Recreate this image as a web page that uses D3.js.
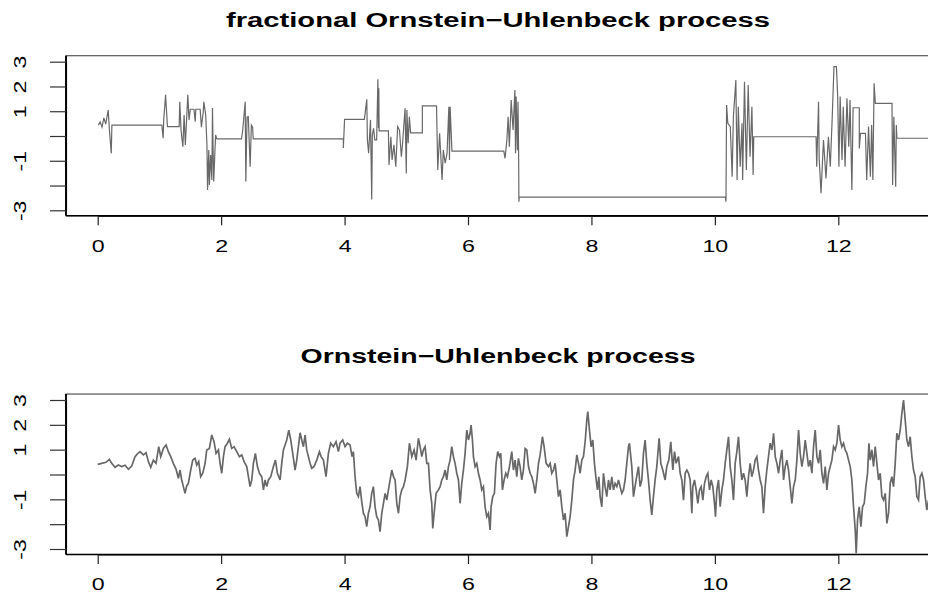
<!DOCTYPE html>
<html>
<head>
<meta charset="utf-8">
<script src="https://cdn.jsdelivr.net/npm/d3@7/dist/d3.min.js"></script>
<style>
  html, body { margin: 0; padding: 0; background: #fff; overflow: hidden; }
  svg { display: block; font-family: "Liberation Sans", Arial, Helvetica, sans-serif; }
</style>
</head>
<body>
<svg id="chart" width="928" height="596"></svg>
<script>
// ---------------- data ----------------
const titles = ["fractional Ornstein\u2212Uhlenbeck process", "Ornstein\u2212Uhlenbeck process"];
const xTicks = [0, 2, 4, 6, 8, 10, 12];
const yTicks = [-3, -2, -1, 0, 1, 2, 3];
const yLabelValues = [3, 2, 1, -1, -3];

// fractional OU path: [time, value]
const fracOU = [
[0.01,0.44],[0.04,0.57],[0.07,0.36],[0.10,0.73],[0.13,0.48],[0.17,1.05],[0.19,0.24],[0.22,-0.70],[0.23,0.44],
[1.04,0.44],[1.06,-0.09],[1.07,0.65],[1.10,1.66],[1.13,0.38],
[1.32,0.38],[1.33,1.38],[1.35,0.24],[1.38,-0.43],[1.40,0.85],[1.42,-0.36],[1.46,1.66],[1.48,0.65],[1.50,1.08],
[1.56,1.08],[1.58,0.58],[1.59,1.08],[1.66,1.08],[1.68,0.36],[1.71,0.97],[1.72,1.38],[1.75,0.85],[1.77,-0.36],[1.78,-2.18],[1.80,-0.57],[1.81,-1.98],[1.83,-0.77],[1.85,-1.78],[1.86,1.13],[1.87,-0.57],[1.88,-1.84],[1.91,0.04],[1.93,-0.12],
[2.33,-0.12],[2.35,0.24],[2.39,1.38],[2.40,-1.84],[2.42,0.77],[2.44,0.78],[2.47,-1.24],[2.49,0.44],[2.51,0.36],[2.52,-0.12],
[3.98,-0.12],[3.98,-0.48],[4.00,0.67],
[4.32,0.67],[4.33,0.85],[4.36,1.48],[4.37,-0.16],[4.39,-0.69],[4.42,0.65],[4.44,-2.56],[4.45,0.04],[4.47,0.31],[4.49,-0.16],[4.52,-0.16],[4.54,2.29],[4.55,0.32],[4.555,1.93],[4.56,0.21],
[4.71,0.21],[4.72,-1.17],[4.75,-0.03],[4.77,-0.97],[4.80,-0.36],[4.83,-1.24],[4.86,0.38],[4.89,0.24],[4.92,-0.84],[4.94,-0.29],[4.98,1.12],[5.00,-1.51],[5.01,1.05],[5.03,-0.29],[5.05,0.78],[5.07,0.13],
[5.26,0.13],[5.26,1.22],[5.49,1.22],[5.51,-1.37],[5.54,0.11],[5.58,-1.78],[5.60,-0.57],[5.63,-1.10],[5.66,-0.70],[5.69,1.18],[5.70,-0.97],[5.71,1.18],[5.74,-0.61],
[6.58,-0.61],[6.60,-0.90],[6.63,-0.16],[6.65,0.78],[6.67,-0.43],[6.70,1.45],[6.73,0.24],[6.75,1.33],[6.76,1.86],[6.77,-0.70],[6.78,1.59],[6.80,-0.57],[6.81,1.38],[6.82,-0.70],[6.825,-2.65],[6.83,-2.47],
[10.17,-2.47],[10.18,-2.65],[10.19,1.25],[10.21,0.51],[10.25,0.38],[10.28,-1.64],[10.30,0.78],[10.34,2.26],[10.36,-1.78],[10.38,1.18],[10.41,-1.24],[10.44,0.51],[10.45,-1.78],[10.48,2.19],[10.51,-1.37],[10.54,2.06],[10.57,-0.84],[10.60,1.18],[10.62,-1.57],[10.63,-0.03],
[11.64,-0.03],[11.65,-1.24],[11.68,1.38],[11.69,-0.90],[11.72,-2.31],[11.76,-0.16],[11.80,-1.71],[11.84,-0.03],[11.87,-1.24],[11.90,0.65],[11.93,2.80],[11.97,2.80],[11.99,1.59],[12.01,-1.24],[12.03,1.59],[12.06,-0.97],[12.08,1.18],[12.11,-1.24],[12.14,1.52],[12.17,-0.43],[12.19,1.45],[12.22,-2.18],[12.24,1.14],
[12.34,1.14],[12.34,-0.50],[12.36,0.11],[12.44,0.11],[12.46,-1.78],[12.49,0.38],[12.52,-1.64],[12.54,0.44],[12.56,-1.78],[12.58,2.13],[12.60,1.32],
[12.87,1.32],[12.88,-1.98],[12.90,0.78],[12.93,-2.05],[12.94,0.44],[12.95,-0.09],[13.65,-0.09]
];

// standard OU path: [time, value]
const stdOU = [
[0.000,0.41],[0.065,0.45],[0.135,0.49],[0.189,0.61],[0.227,0.45],[0.281,0.29],[0.335,0.38],[0.389,0.32],[0.443,0.37],[0.497,0.21],[0.551,0.34],[0.605,0.72],[0.643,0.83],[0.686,0.92],[0.740,0.79],[0.783,0.88],[0.821,0.52],[0.859,0.29],[0.902,0.58],[0.945,0.45],[0.989,1.12],[1.021,0.72],[1.064,1.05],[1.108,1.19],[1.145,0.92],[1.183,0.72],[1.226,0.45],[1.270,0.21],[1.307,-0.15],[1.334,0.18],[1.361,-0.22],[1.388,-0.49],[1.415,-0.76],[1.442,-0.46],[1.469,-0.36],[1.507,0.18],[1.540,0.58],[1.578,0.65],[1.605,0.38],[1.637,0.52],[1.669,-0.09],[1.702,0.05],[1.740,0.45],[1.767,0.99],[1.810,1.05],[1.848,1.59],[1.885,1.32],[1.918,0.85],[1.956,0.99],[1.983,0.45],[2.010,0.05],[2.037,0.72],[2.064,1.12],[2.102,1.26],[2.134,1.42],[2.172,1.05],[2.210,1.12],[2.253,0.92],[2.296,0.72],[2.334,0.79],[2.372,0.52],[2.415,0.32],[2.442,-0.09],[2.469,-0.49],[2.496,-0.22],[2.523,0.45],[2.555,0.85],[2.588,0.32],[2.620,0.05],[2.658,-0.09],[2.685,-0.62],[2.712,-0.22],[2.739,-0.49],[2.766,-0.22],[2.804,-0.09],[2.847,0.32],[2.880,0.58],[2.912,0.05],[2.955,-0.22],[2.982,0.45],[3.009,0.99],[3.036,1.19],[3.063,1.39],[3.096,1.79],[3.128,1.39],[3.160,0.85],[3.198,0.18],[3.225,0.58],[3.252,1.12],[3.279,1.68],[3.306,1.39],[3.333,1.12],[3.360,1.59],[3.387,0.99],[3.414,0.72],[3.441,0.45],[3.468,0.25],[3.506,0.32],[3.549,0.58],[3.593,0.92],
[3.620,0.72],[3.657,0.58],[3.700,-0.09],[3.738,0.85],[3.775,1.26],[3.819,1.12],[3.862,1.32],[3.900,0.92],[3.927,1.26],[3.970,1.39],[4.008,1.12],[4.046,1.26],[4.089,1.19],[4.121,0.72],[4.143,0.92],[4.170,-0.09],[4.197,-0.76],[4.224,-0.89],[4.251,-0.49],[4.278,-1.09],[4.305,-1.56],[4.332,-1.70],[4.359,-2.10],[4.386,-1.56],[4.413,-1.30],[4.440,-0.76],[4.467,-0.49],[4.494,-1.30],[4.521,-1.70],[4.548,-1.83],[4.575,-2.30],[4.603,-1.56],[4.630,-1.16],[4.657,-0.76],[4.684,-1.03],[4.711,-0.62],[4.738,-0.22],[4.765,0.18],[4.792,-0.09],[4.819,-0.22],[4.846,-1.16],[4.873,-1.56],[4.900,-0.89],[4.927,-0.62],[4.954,-0.49],[4.981,-0.22],[5.018,0.32],[5.051,1.26],[5.089,0.72],[5.127,0.99],[5.159,0.58],[5.197,1.46],[5.224,1.12],[5.251,0.72],[5.278,0.99],[5.305,1.12],[5.332,0.45],[5.359,0.45],[5.386,-0.62],[5.413,-1.16],[5.429,-2.17],[5.451,-1.56],[5.483,-0.76],[5.521,-0.62],[5.548,-0.49],[5.575,-0.22],[5.602,-0.09],[5.629,0.18],[5.656,-0.22],[5.683,0.32],[5.710,0.58],[5.737,1.12],[5.764,0.72],[5.791,0.45],[5.818,0.05],[5.845,-0.22],[5.872,-1.16],[5.899,-0.36],[5.926,0.18],[5.953,0.85],[5.980,1.79],[6.007,1.39],[6.034,1.66],[6.050,1.99],[6.072,1.39],[6.088,0.72],[6.115,0.32],[6.142,0.45],[6.169,0.05],[6.196,-0.22],[6.223,-0.62],[6.250,-0.49],[6.277,-1.30],[6.304,-1.70],[6.331,-1.56],[6.358,-2.23],[6.374,-1.30],[6.401,-0.89],[6.428,-0.76],[6.455,0.45],[6.482,0.92],[6.510,0.72],[6.531,0.85],[6.558,-0.62],[6.585,-0.22],[6.612,0.05],[6.639,-0.09],[6.672,0.32],[6.709,0.92],[6.736,0.18],[6.763,0.58],[6.790,-0.09],[6.817,0.65],[6.844,0.32],[6.871,-0.22],[6.898,0.18],[6.926,1.05],[6.953,0.99],[6.980,0.32],[7.007,0.05],[7.034,-0.09],[7.061,-0.36],[7.088,-0.76],[7.115,-0.22],[7.142,0.45],[7.169,0.79],[7.206,1.52],[7.233,1.12],[7.266,0.45],[7.304,0.32],[7.331,0.45],[7.358,0.05],[7.385,0.18],[7.412,0.45],[7.439,-0.22],[7.466,-0.89],[7.493,-0.62],[7.520,-1.30],[7.547,-1.83],[7.574,-1.56],[7.601,-2.50],[7.628,-2.10],[7.655,-1.70],[7.682,-1.03],[7.709,-0.22],[7.736,0.18],[7.763,0.79],[7.790,0.45],[7.817,0.05],[7.844,0.58],[7.871,0.72],[7.898,1.32],[7.925,2.19],[7.941,2.53],[7.968,1.79],[7.995,1.12],[8.022,1.39],[8.049,0.45],[8.077,-0.22],[8.098,-0.62],[8.120,-0.09],[8.141,-0.89],[8.168,-1.30],[8.195,0.05],[8.222,-0.49],[8.249,-0.89],[8.276,-0.22],[8.303,-0.62],[8.330,-0.09],[8.357,-0.62],[8.384,-0.36],[8.411,-0.49],[8.438,-0.22],[8.465,-0.49],[8.492,-0.76],[8.519,-0.62],[8.546,-0.22],[8.573,0.45],[8.600,1.12],
[8.616,1.26],[8.654,0.32],[8.681,-0.89],[8.724,-0.22],[8.762,0.32],[8.789,-0.49],[8.816,-0.22],[8.843,0.85],[8.870,1.39],[8.897,0.45],[8.924,-0.22],[8.951,-1.03],[8.978,-1.63],[9.005,-0.89],[9.032,-0.22],[9.059,0.32],[9.097,1.46],[9.124,0.45],[9.156,0.18],[9.194,-0.22],[9.221,0.32],[9.254,0.58],[9.286,1.32],[9.319,0.18],[9.346,0.92],[9.373,0.45],[9.411,0.72],[9.438,0.05],[9.465,-0.22],[9.492,-1.03],[9.519,0.05],[9.546,0.18],[9.573,0.05],[9.600,-0.22],[9.627,-1.56],[9.643,-0.49],[9.670,-0.22],[9.697,-0.62],[9.724,-1.16],[9.751,-0.62],[9.778,-0.49],[9.805,-1.03],[9.832,-0.36],[9.859,-0.09],[9.886,0.05],[9.913,-0.62],[9.940,-0.22],[9.967,-0.49],[9.994,-1.16],[10.010,-1.70],[10.032,-0.62],[10.059,-0.22],[10.086,-1.30],[10.113,-0.62],[10.140,-0.22],[10.167,0.45],[10.194,0.99],[10.221,1.52],[10.248,0.32],[10.275,-0.22],[10.302,-1.03],[10.329,0.45],[10.356,0.92],[10.383,1.52],[10.410,0.45],[10.437,-0.22],[10.464,0.05],[10.491,-0.22],[10.518,-0.89],[10.545,-0.09],[10.572,0.45],[10.599,-0.09],[10.626,0.18],[10.653,0.58],[10.680,0.72],[10.707,0.18],[10.734,-0.22],[10.761,-0.49],[10.788,-1.56],[10.815,-0.49],[10.842,0.18],[10.869,0.72],[10.896,1.26],[10.924,0.99],[10.951,1.66],[10.978,0.72],[11.005,0.45],[11.032,0.05],[11.059,0.58],[11.086,0.99],[11.113,-0.22],[11.140,0.32],[11.167,0.58],[11.194,0.18],[11.221,-0.49],[11.248,-1.16],[11.275,-0.49],[11.302,-0.22],[11.329,0.58],[11.356,1.79],[11.383,0.85],[11.410,0.32],[11.437,0.72],[11.464,1.39],[11.491,0.85],[11.518,0.32],[11.545,0.58],[11.572,0.05],[11.599,1.12],[11.626,1.79],[11.653,0.72],[11.680,0.45],[11.707,0.99],[11.734,0.05],[11.761,-0.36],[11.788,0.32],[11.815,-0.62],[11.842,0.05],[11.869,0.32],[11.896,0.58],[11.923,1.12],[11.950,0.99],[11.977,1.26],[12.004,1.99],[12.031,1.39],[12.058,1.12],[12.085,1.26],[12.112,0.99],[12.139,0.85],[12.166,0.58],[12.193,0.32],[12.220,-0.22],[12.247,-1.30],[12.274,-2.23],[12.290,-3.17],[12.312,-1.83],[12.339,-1.30],[12.366,-2.10],[12.393,-1.30],[12.420,-1.16],[12.447,-0.49],[12.474,0.05],[12.496,1.26],[12.517,0.58],[12.544,0.99],[12.571,0.32],[12.598,1.12],[12.625,0.45],[12.652,-0.22],[12.679,0.05],[12.706,-0.89],[12.733,-1.03],[12.760,-0.76],[12.787,-1.97],[12.814,-1.56],[12.841,-0.36],[12.868,-0.09],[12.895,-0.49],[12.922,0.45],[12.949,1.66],[12.976,1.39],[13.003,1.79],[13.030,2.46],[13.057,3.00],[13.084,2.19],[13.111,1.39],[13.138,1.12],[13.165,1.52],[13.192,0.72],[13.219,0.18],[13.246,-0.09],[13.273,-0.89],[13.300,-1.03],[13.327,-0.09],[13.354,0.05],[13.381,-0.22],[13.408,-0.89],[13.435,-1.43],[13.462,-1.03],[13.490,-1.56]
];

// ---------------- drawing ----------------
const svg = d3.select("#chart");
const FONT = '"Liberation Sans", Arial, Helvetica, sans-serif';
const x = d3.scaleLinear().domain([0, 12]).range([97.7, 838.3]);

const panels = [
  { title: titles[0], data: fracOU, yRange: [210.3, 61.7], titleY: 26.7, titleLen: 544, labelY: 252, sw: 1.2 },
  { title: titles[1], data: stdOU,  yRange: [549.0, 400.0], titleY: 363.0, titleLen: 395, labelY: 590, sw: 1.7 }
];

panels.forEach((p, i) => {
  const y = d3.scaleLinear().domain([-3, 3]).range(p.yRange);
  const left = x(-0.514), right = x(13.55);
  const top = y(3.24), bottom = y(-3.22);
  const g = svg.append("g");

  const cid = "clip" + i;
  svg.append("clipPath").attr("id", cid)
    .append("rect").attr("x", left).attr("y", top).attr("width", right - left).attr("height", bottom - top);

  g.append("path")
    .datum(p.data)
    .attr("clip-path", `url(#${cid})`)
    .attr("fill", "none")
    .attr("stroke", "#686868")
    .attr("stroke-width", p.sw)
    .attr("stroke-linejoin", "miter")
    .attr("d", d3.line().x(d => x(d[0])).y(d => y(d[1])));

  g.append("rect")
    .attr("x", left).attr("y", top).attr("width", right - left).attr("height", bottom - top)
    .attr("fill", "none").attr("stroke", "#333").attr("stroke-width", 1);
  g.append("line").attr("x1", left).attr("x2", left).attr("y1", top).attr("y2", bottom)
    .attr("stroke", "#000").attr("stroke-width", 1.8);
  g.append("line").attr("x1", left).attr("x2", right).attr("y1", bottom).attr("y2", bottom)
    .attr("stroke", "#000").attr("stroke-width", 1.6);

  const xa = g.append("g").attr("transform", `translate(0,${bottom})`)
    .call(d3.axisBottom(x).tickValues(xTicks).tickSize(9.5).tickSizeOuter(0).tickFormat(d => String(d)));
  xa.select(".domain").attr("stroke", "#000").attr("stroke-width", 1.2);
  xa.selectAll(".tick line").attr("stroke", "#222").attr("stroke-width", 1.2);
  xa.selectAll(".tick text")
    .attr("y", p.labelY - bottom).attr("dy", null)
    .attr("font-family", FONT).attr("font-size", 16).attr("fill", "#000")
    .attr("transform", "scale(1.45,1)");

  const ya = g.append("g").attr("transform", `translate(${left},0)`)
    .call(d3.axisLeft(y).tickValues(yTicks).tickSize(16).tickSizeOuter(0)
      .tickFormat(d => yLabelValues.includes(d) ? String(d) : ""));
  ya.select(".domain").attr("stroke", "#000").attr("stroke-width", 1.2);
  ya.selectAll(".tick line").attr("stroke", "#333").attr("stroke-width", 1.2);
  ya.selectAll(".tick text")
    .attr("x", 0).attr("y", 0).attr("dy", null)
    .attr("text-anchor", "middle")
    .attr("font-family", FONT).attr("font-size", 16.5).attr("fill", "#000")
    .attr("transform", `translate(${26.5 - left},0) rotate(-90) scale(1.4,1)`);

  svg.append("text")
    .attr("x", 498).attr("y", p.titleY)
    .attr("text-anchor", "middle")
    .attr("font-family", FONT).attr("font-weight", "bold").attr("font-size", 20)
    .attr("textLength", p.titleLen).attr("lengthAdjust", "spacingAndGlyphs")
    .attr("fill", "#000")
    .text(p.title);
});
</script>
</body>
</html>
